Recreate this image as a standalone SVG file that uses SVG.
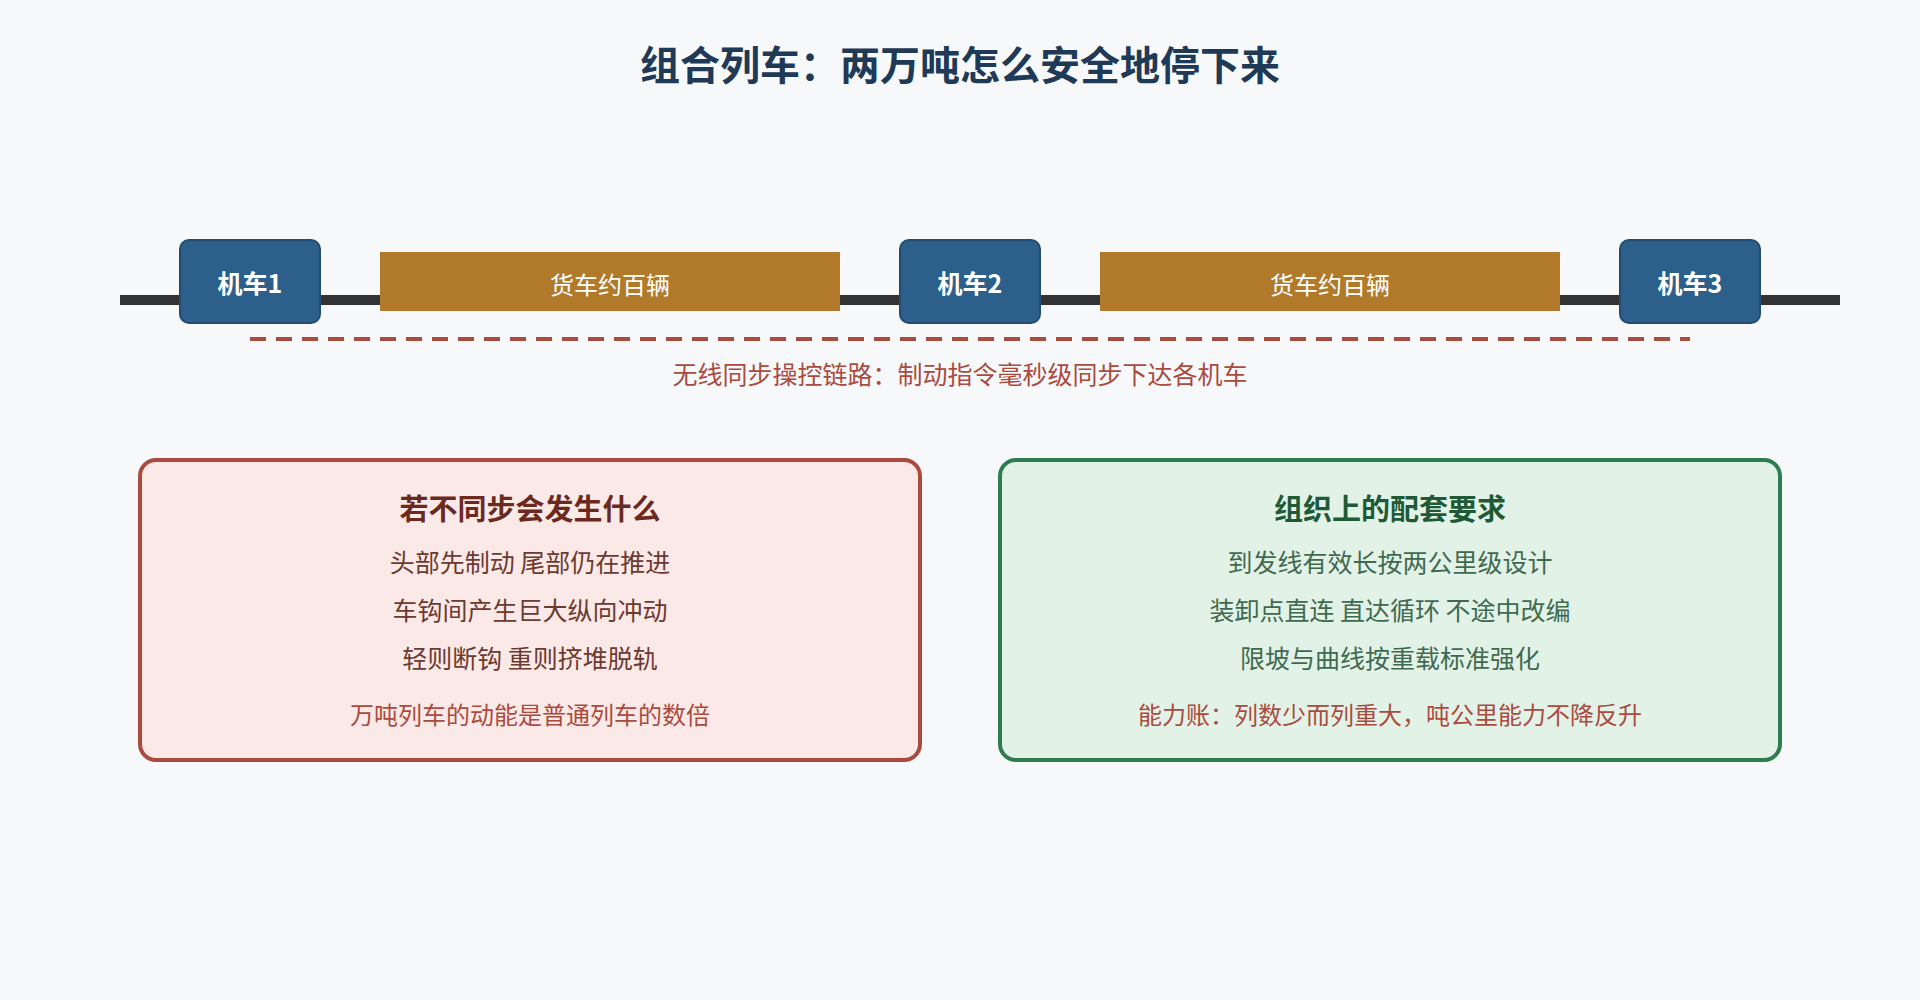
<svg xmlns="http://www.w3.org/2000/svg" width="1920" height="1000" viewBox="0 0 1920 1000">
<style>
text{font-family:"Noto Sans CJK SC","Liberation Sans",sans-serif;text-anchor:middle}
.loco rect{fill:#2c5f8a;stroke:#234d70;stroke-width:2}
.loco text{fill:#fff;font-size:25px;font-weight:bold}
.wagon rect{fill:#b07a2a}
.wagon text{fill:#fff;font-size:24px}
.bt{font-size:29px;font-weight:bold}
.bl{font-size:25px}
.bf{font-size:24px;fill:#a94b3f}
</style>
<rect width="1920" height="1000" fill="#f7f8fa"/>
<text x="960" y="80" font-size="40" font-weight="bold" fill="#1f3a56">组合列车：两万吨怎么安全地停下来</text>
<g id="connectors">
<line x1="120" y1="300" x2="1840" y2="300" stroke="#333" stroke-width="10"/>
<line x1="250" y1="339" x2="1690" y2="339" stroke="#a94b3f" stroke-width="4" stroke-dasharray="16,10"/>
</g>
<g id="wagon1" class="wagon"><rect x="380" y="252" width="460" height="59"/><text x="610" y="294">货车约百辆</text></g>
<g id="wagon2" class="wagon"><rect x="1100" y="252" width="460" height="59"/><text x="1330" y="294">货车约百辆</text></g>
<g id="loco1" class="loco"><rect x="180" y="240" width="140" height="83" rx="9"/><text x="250" y="293">机车1</text></g>
<g id="loco2" class="loco"><rect x="900" y="240" width="140" height="83" rx="9"/><text x="970" y="293">机车2</text></g>
<g id="loco3" class="loco"><rect x="1620" y="240" width="140" height="83" rx="9"/><text x="1690" y="293">机车3</text></g>
<text x="960" y="384" font-size="25" fill="#a94b3f">无线同步操控链路：制动指令毫秒级同步下达各机车</text>
<g id="box-left">
<rect x="140" y="460" width="780" height="300" rx="16" fill="#fbe9e7" stroke="#a94b3f" stroke-width="4"/>
<text x="530" y="520" class="bt" fill="#6b2a1e">若不同步会发生什么</text>
<text x="530" y="572" class="bl" fill="#6b3a30">头部先制动 尾部仍在推进</text>
<text x="530" y="620" class="bl" fill="#6b3a30">车钩间产生巨大纵向冲动</text>
<text x="530" y="668" class="bl" fill="#6b3a30">轻则断钩 重则挤堆脱轨</text>
<text x="530" y="724" class="bf">万吨列车的动能是普通列车的数倍</text>
</g>
<g id="box-right">
<rect x="1000" y="460" width="780" height="300" rx="16" fill="#e2f2e7" stroke="#2e7d4f" stroke-width="4"/>
<text x="1390" y="520" class="bt" fill="#1e5a35">组织上的配套要求</text>
<text x="1390" y="572" class="bl" fill="#3f6a50">到发线有效长按两公里级设计</text>
<text x="1390" y="620" class="bl" fill="#3f6a50">装卸点直连 直达循环 不途中改编</text>
<text x="1390" y="668" class="bl" fill="#3f6a50">限坡与曲线按重载标准强化</text>
<text x="1390" y="724" class="bf">能力账：列数少而列重大，吨公里能力不降反升</text>
</g>
</svg>
